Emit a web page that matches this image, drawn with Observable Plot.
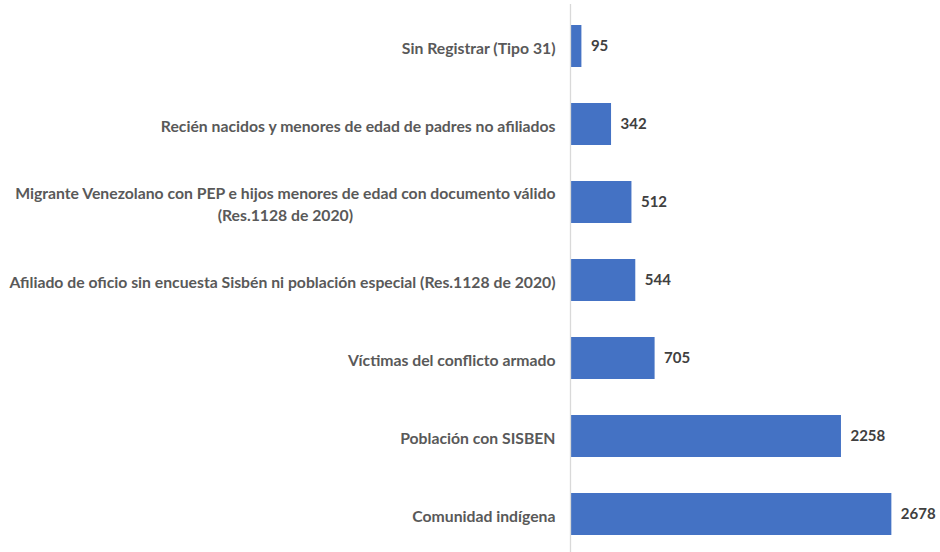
<!DOCTYPE html>
<html><head><meta charset="utf-8">
<script src="https://cdn.jsdelivr.net/npm/d3@7"></script>
<script src="https://cdn.jsdelivr.net/npm/@observablehq/plot@0.6"></script>
<style>body{margin:0;background:#fff}</style>
</head><body><div id="chart"></div>
<script>
const categories = [
  "Sin Registrar (Tipo 31)",
  "Recién nacidos y menores de edad de padres no afiliados",
  "Migrante Venezolano con PEP e hijos menores de edad con documento válido\n(Res.1128 de 2020)",
  "Afiliado de oficio sin encuesta Sisbén ni población especial (Res.1128 de 2020)",
  "Víctimas del conflicto armado",
  "Población con SISBEN",
  "Comunidad indígena"
];
const values = [95, 342, 512, 544, 705, 2258, 2678];
const data = categories.map((c, i) => ({category: c, value: values[i]}));
const FONT = 'Lato, "Open Sans", sans-serif';
const chart = Plot.plot({
  width: 940, height: 552,
  marginLeft: 570, marginRight: 10, marginTop: 4, marginBottom: 0,
  style: {fontFamily: FONT, fontSize: "15.75px", color: "#404040", background: "#fff", overflow: "visible"},
  x: {domain: [0, 3000], axis: null},
  y: {domain: categories, range: [4.7, 555.3], paddingInner: 0.46, paddingOuter: 0.23, axis: null},
  marks: [
    Plot.barX(data, {x: "value", y: "category", fill: "#4472C4"}),
    Plot.ruleX([0], {stroke: "#d9d9d9", strokeWidth: 1.3}),
    Plot.text(data, {x: "value", y: "category", text: d => String(d.value), textAnchor: "start", dx: 9, fontWeight: "bold", fill: "#404040", fontSize: 15}),
    Plot.text(data, {x: 0, y: "category", text: "category", textAnchor: "end", dx: -15, fontWeight: "bold", fill: "#595959", lineHeight: 1.4, fontSize: 15.75, className: "cat-label"})
  ]
});
document.getElementById("chart").appendChild(chart);
// center multi-line labels within their block (right edge kept)
chart.querySelectorAll(".cat-label text").forEach(t => {
  const spans = t.querySelectorAll("tspan");
  if (spans.length > 1) {
    let W = 0;
    spans.forEach(s => { W = Math.max(W, s.getComputedTextLength()); });
    t.setAttribute("text-anchor", "middle");
    spans.forEach(s => s.setAttribute("x", -W / 2));
  }
});
</script>
</body></html>
